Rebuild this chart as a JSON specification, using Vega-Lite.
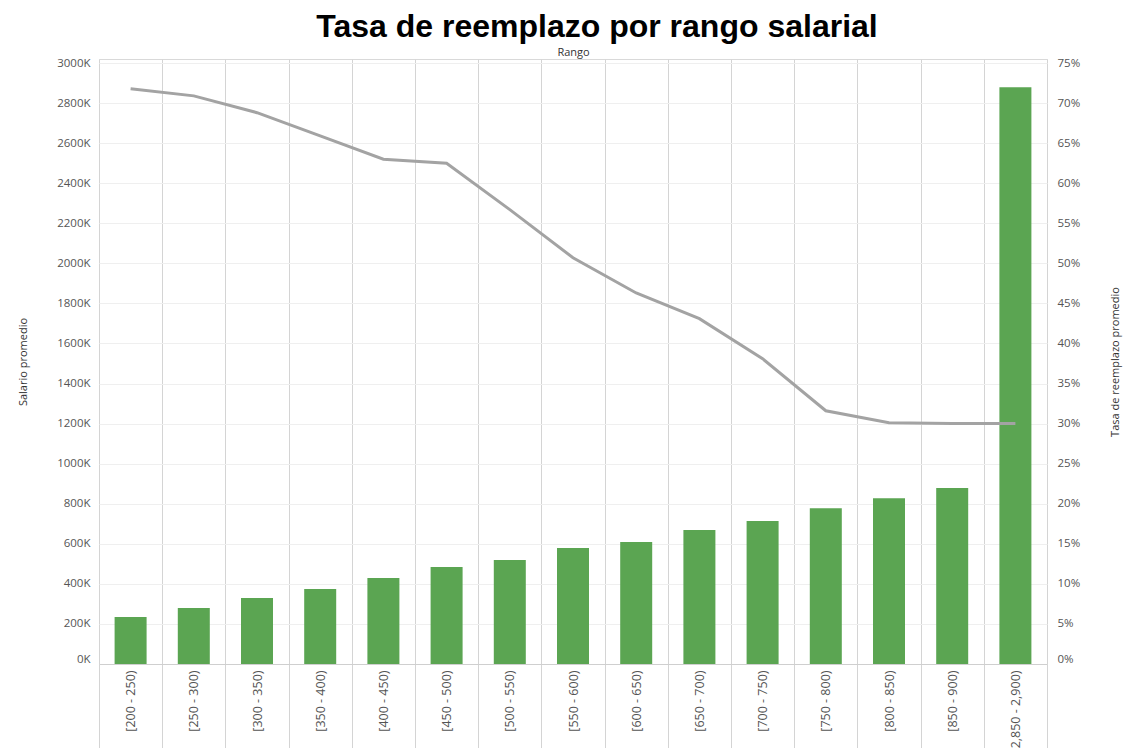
{
  "$schema": "https://vega.github.io/schema/vega-lite/v6.json",
  "width": 948,
  "height": 605,
  "autosize": {"type": "none"},
  "padding": {"left": 99, "top": 59, "right": 88, "bottom": 84},
  "background": "white",
  "config": {
    "view": {"stroke": "#d9d9d9", "strokeWidth": 1},
    "font": "Open Sans",
    "axis": {"labelFont": "Open Sans", "titleFont": "Open Sans", "labelColor": "#555555", "titleColor": "#333333", "labelFontSize": 11.5, "titleFontSize": 11, "titleFontWeight": "normal"}
  },
  "title": {"text": "Tasa de reemplazo por rango salarial", "font": "Liberation Sans", "fontSize": 32, "fontWeight": "bold", "color": "#000000", "anchor": "middle", "dx": 24, "dy": 2},
  "data": {"values": [
    {"rango": "[200 - 250)", "salario": 234000, "tasa": 0.718},
    {"rango": "[250 - 300)", "salario": 279000, "tasa": 0.709},
    {"rango": "[300 - 350)", "salario": 329000, "tasa": 0.688},
    {"rango": "[350 - 400)", "salario": 374000, "tasa": 0.659},
    {"rango": "[400 - 450)", "salario": 429000, "tasa": 0.630},
    {"rango": "[450 - 500)", "salario": 484000, "tasa": 0.625},
    {"rango": "[500 - 550)", "salario": 519000, "tasa": 0.567},
    {"rango": "[550 - 600)", "salario": 579000, "tasa": 0.507},
    {"rango": "[600 - 650)", "salario": 609000, "tasa": 0.463},
    {"rango": "[650 - 700)", "salario": 669000, "tasa": 0.431},
    {"rango": "[700 - 750)", "salario": 714000, "tasa": 0.381},
    {"rango": "[750 - 800)", "salario": 778000, "tasa": 0.316},
    {"rango": "[800 - 850)", "salario": 828000, "tasa": 0.301},
    {"rango": "[850 - 900)", "salario": 878000, "tasa": 0.300},
    {"rango": "[2,850 - 2,900)", "salario": 2879000, "tasa": 0.300}
  ]},
  "encoding": {
    "x": {
      "field": "rango", "type": "nominal", "sort": null,
      "scale": {"paddingInner": 0, "paddingOuter": 0},
      "axis": {
        "title": "Rango", "titleY": -609, "titleBaseline": "alphabetic", "titleFontSize": 11,
        "labelAngle": -90, "labelPadding": -78, "labelFontSize": 12.5,
        "tickBand": "extent", "grid": true, "gridColor": "#d4d4d4",
        "ticks": true, "tickSize": 84, "tickColor": "#d4d4d4",
        "domain": true, "domainColor": "#cfcfcf"
      }
    }
  },
  "layer": [
    {
      "mark": {"type": "bar", "size": 32, "color": "#5ba552"},
      "encoding": {
        "y": {
          "field": "salario", "type": "quantitative",
          "scale": {"domain": [0, 3020000], "nice": false},
          "axis": {
            "title": "Salario promedio", "titleX": -71, "titleAngle": -90,
            "values": [0, 200000, 400000, 600000, 800000, 1000000, 1200000, 1400000, 1600000, 1800000, 2000000, 2200000, 2400000, 2600000, 2800000, 3000000],
            "labelExpr": "format(datum.value/1000, 'd') + 'K'",
            "labelFlush": true, "ticks": false, "labelPadding": 9, "domain": false,
            "grid": true, "gridColor": "#efefef"
          }
        }
      }
    },
    {
      "mark": {"type": "line", "color": "#a3a3a3", "strokeWidth": 3},
      "encoding": {
        "y": {
          "field": "tasa", "type": "quantitative",
          "scale": {"domain": [0, 0.755], "nice": false},
          "axis": {
            "orient": "right", "title": "Tasa de reemplazo promedio", "titleX": 73, "titleAngle": -90,
            "values": [0, 0.05, 0.1, 0.15, 0.2, 0.25, 0.3, 0.35, 0.4, 0.45, 0.5, 0.55, 0.6, 0.65, 0.7, 0.75],
            "format": ".0%", "labelFlush": true, "ticks": false, "labelPadding": 10,
            "domain": false, "grid": false
          }
        }
      }
    }
  ],
  "resolve": {"scale": {"y": "independent"}}
}
